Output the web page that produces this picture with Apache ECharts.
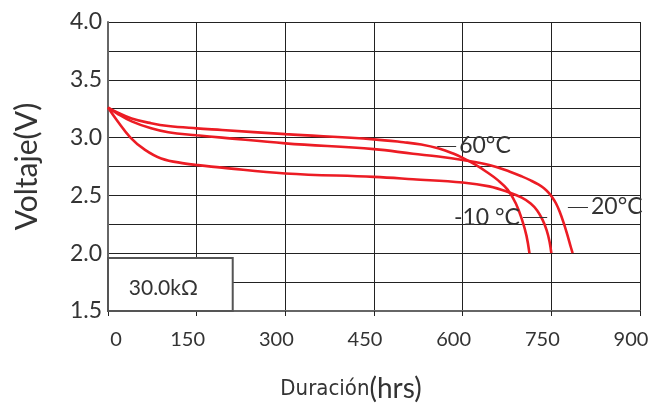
<!DOCTYPE html>
<html>
<head>
<meta charset="utf-8">
<script src="https://cdn.jsdelivr.net/npm/echarts@6/dist/echarts.min.js"></script>
<style>html,body{margin:0;padding:0;background:#fff}#c{width:671px;height:403px}</style>
</head>
<body>
<div id="c"></div>
<script>
// Data (hours, volts)
const xTicks = [0, 150, 300, 450, 600, 750, 900];
const yTicks = [1.5, 2.0, 2.5, 3.0, 3.5, 4.0];
const seriesNames = ['60°C', '20°C', '-10 °C'];
const curve60 = [[0,3.26],[15,3.22],[40,3.165],[73,3.124],[102,3.10],[150,3.08],[193,3.066],[300,3.03],[450,2.985],[500,2.96],[530,2.94],[560,2.905],[585,2.86],[600,2.825],[620,2.77],[640,2.705],[660,2.63],[676,2.55],[690,2.43],[701,2.28],[708,2.15],[713,2.0]];
const curve20 = [[0,3.26],[15,3.21],[40,3.14],[73,3.08],[102,3.046],[150,3.02],[193,3.0],[300,2.95],[450,2.90],[516,2.86],[559,2.836],[600,2.806],[645,2.763],[680,2.705],[700,2.665],[715,2.63],[728,2.595],[738,2.56],[746,2.52],[752,2.48],[758,2.43],[764,2.36],[771,2.26],[777,2.16],[782,2.07],[786,2.0]];
const curveM10 = [[0,3.26],[15,3.15],[38,3.0],[61,2.9],[90,2.82],[131,2.775],[150,2.763],[193,2.74],[300,2.69],[450,2.66],[516,2.64],[600,2.612],[645,2.578],[679,2.525],[700,2.48],[715,2.43],[726,2.37],[735,2.29],[742,2.2],[747,2.1],[750,2.0]];
// annotation leaders (data coords): [x1, x2, y]
const lead60 = [557, 589, 2.927];
const leadM10 = [702, 743, 2.31];
const lead20 = [778, 812, 2.40];
const boxLabel = '30.0kΩ';
const boxRange = [[0, 1.5], [211, 1.958]];

const RED = '#ec1c24';
const FONT = 'Lato';

function lineSeries(name, data, lead, pos) {
  return {
    name: name, type: 'line', data: data, showSymbol: false,
    smooth: 0.4,
    lineStyle: { color: RED, width: 2.6 },
    z: 3,
    markLine: {
      silent: true, symbol: 'none', animation: false,
      lineStyle: { color: '#333', width: 1, type: 'solid' },
      label: {
        show: true, position: pos, formatter: name, distance: 3,
        color: '#333', fontSize: 23, fontFamily: FONT
      },
      data: [[{ coord: [lead[0], lead[2]] }, { coord: [lead[1], lead[2]] }]]
    }
  };
}

const chart = echarts.init(document.getElementById('c'));
const series = [
  lineSeries(seriesNames[0], curve60, lead60, 'end'),
  lineSeries(seriesNames[1], curve20, lead20, 'end'),
  lineSeries(seriesNames[2], curveM10, leadM10, 'start')
];
series[0].markArea = {
  silent: true, animation: false,
  itemStyle: { color: '#fff', borderColor: '#555', borderWidth: 2 },
  label: { show: true, position: 'inside', offset: [-7, 4], formatter: boxLabel, color: '#333', fontSize: 21, fontFamily: FONT },
  data: [[{ coord: boxRange[0] }, { coord: boxRange[1] }]]
};

chart.setOption({
  animation: false,
  backgroundColor: '#fff',
  grid: { left: 108, right: 31, top: 22, bottom: 92, containLabel: false, outerBoundsMode: 'none' },
  xAxis: {
    type: 'value', min: xTicks[0], max: xTicks[xTicks.length - 1], interval: 150,
    name: '{a|Duración}{b|(hrs)}', nameLocation: 'middle', nameGap: 64,
    nameTextStyle: {
      padding: [0, 46, 0, 0],
      rich: {
        a: { fontSize: 22, color: '#333', fontFamily: 'DejaVu Sans Condensed' },
        b: { fontSize: 28, color: '#333', fontFamily: FONT }
      }
    },
    axisLine: { show: true, lineStyle: { color: '#666', width: 2 } },
    axisTick: { show: true, length: 5, lineStyle: { color: '#222', width: 1 } },
    splitLine: { show: true, lineStyle: { color: '#222', width: 1 } },
    axisLabel: {
      margin: 19, color: '#333', fontSize: 20, fontFamily: FONT,
      formatter: function (v) { return v === 0 ? '{z|0}' : '{n|' + v + '}'; },
      rich: {
        z: { fontSize: 20, color: '#333', fontFamily: FONT, padding: [0, 0, 0, 16] },
        n: { fontSize: 20, color: '#333', fontFamily: FONT, padding: [0, 18, 0, 0] }
      }
    }
  },
  yAxis: {
    type: 'value', min: yTicks[0], max: yTicks[yTicks.length - 1], interval: 0.25,
    name: 'Voltaje(V)', nameLocation: 'middle', nameGap: 66,
    nameTextStyle: { fontSize: 30, color: '#333', fontFamily: FONT },
    axisLine: { show: true, lineStyle: { color: '#666', width: 2 } },
    axisTick: { show: false },
    splitLine: { show: true, lineStyle: { color: '#222', width: 1 } },
    axisLabel: {
      margin: 6, color: '#333', fontSize: 23, fontFamily: FONT,
      formatter: function (v) {
        const r = Math.round(v * 100);
        return (r % 50 === 0) ? (r / 100).toFixed(1) : '';
      }
    }
  },
  series: series
});
</script>
</body>
</html>
